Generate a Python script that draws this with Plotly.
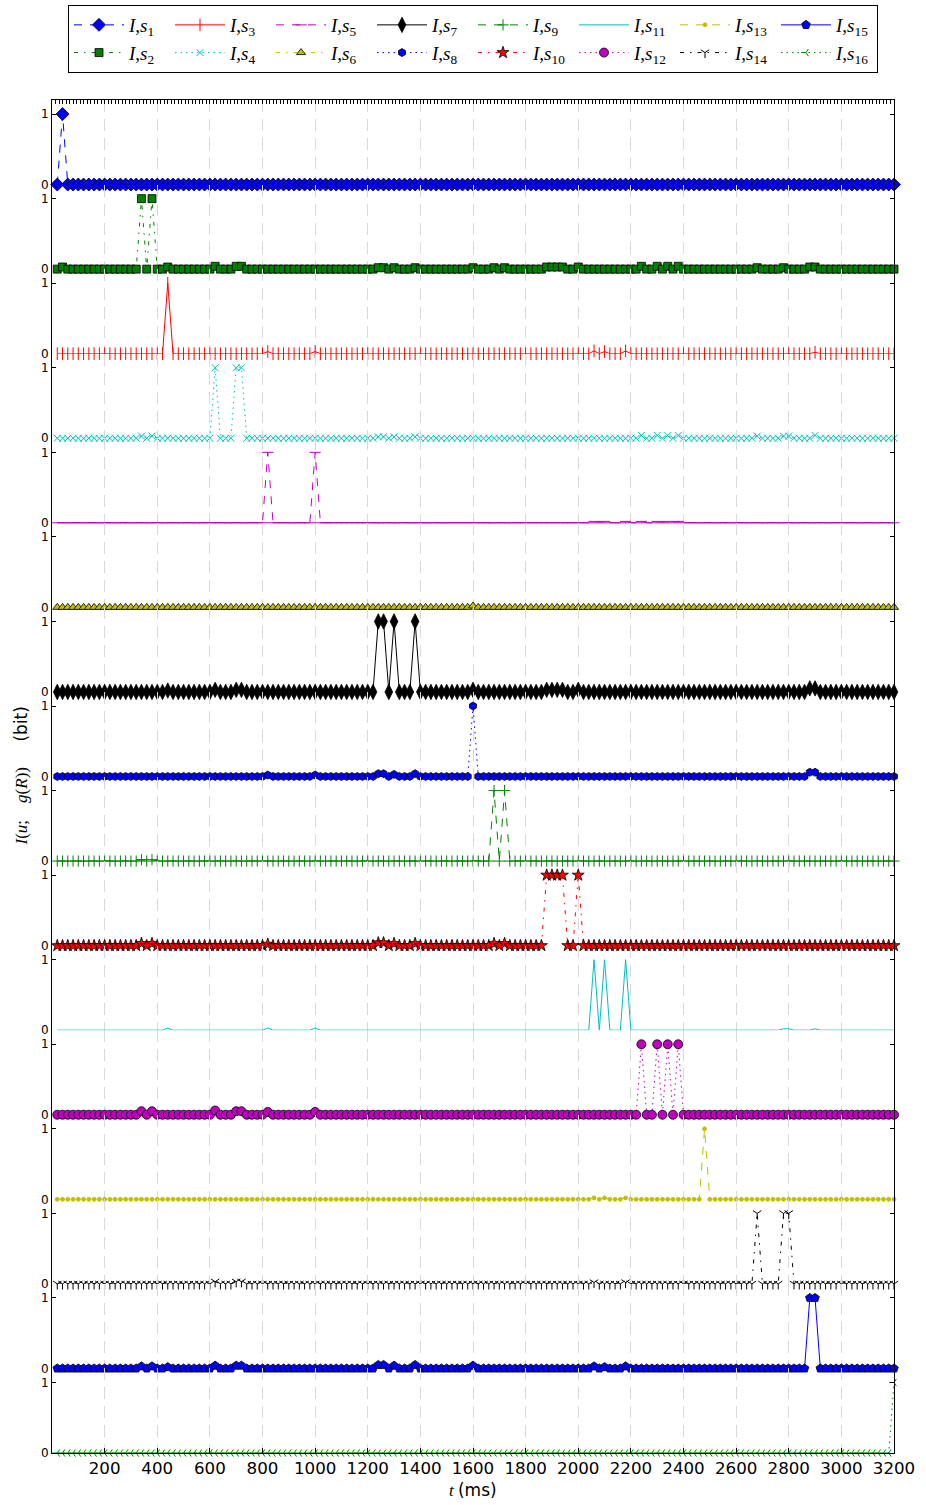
import plotly.graph_objects as go
from plotly.subplots import make_subplots

# sample times (ms)
t_ms = list(range(20, 3201, 20))

# non-zero values: (time in ms, value); all other samples are 0
s1_nonzero = [(40, 1.0)]
s2_nonzero = [(40, 0.03), (340, 1.0), (380, 1.0), (440, 0.03), (620, 0.04), (700, 0.04), (720, 0.04),
              (1240, 0.02), (1260, 0.02), (1300, 0.02), (1380, 0.02), (1600, 0.02), (1680, 0.02), (1720, 0.02),
              (1880, 0.03), (1900, 0.03), (1920, 0.03), (1940, 0.03), (2000, 0.03),
              (2240, 0.04), (2300, 0.04), (2340, 0.04), (2380, 0.04), (2680, 0.02), (2780, 0.02),
              (2880, 0.03), (2900, 0.03)]
s3_nonzero = [(440, 1.0), (820, 0.03), (1000, 0.03), (2060, 0.04), (2100, 0.03), (2180, 0.04), (2900, 0.02)]
s4_nonzero = [(340, 0.03), (380, 0.03), (620, 1.0), (700, 1.0), (720, 1.0), (1240, 0.02), (1260, 0.02),
              (1300, 0.02), (1380, 0.02), (2240, 0.04), (2300, 0.04), (2340, 0.04), (2380, 0.04),
              (2680, 0.03), (2780, 0.03), (2800, 0.03), (2900, 0.04)]
s5_nonzero = [(820, 1.0), (1000, 1.0), (2060, 0.02), (2100, 0.02), (2180, 0.02), (2240, 0.02),
              (2300, 0.02), (2340, 0.02), (2380, 0.02)]
s6_nonzero = [(1600, 0.02)]
s7_nonzero = [(440, 0.02), (620, 0.03), (700, 0.03), (720, 0.03), (1240, 1.0), (1260, 1.0), (1300, 1.0),
              (1380, 1.0), (1600, 0.03), (1880, 0.03), (1900, 0.03), (1920, 0.03), (1940, 0.03),
              (2000, 0.03), (2880, 0.05), (2900, 0.05)]
s8_nonzero = [(820, 0.02), (1000, 0.02), (1240, 0.04), (1260, 0.04), (1300, 0.03), (1380, 0.04),
              (1600, 1.0), (2880, 0.06), (2900, 0.06)]
s9_nonzero = [(340, 0.02), (380, 0.02), (1680, 1.0), (1720, 1.0)]
s10_nonzero = [(340, 0.03), (380, 0.03), (820, 0.02), (1240, 0.04), (1260, 0.04), (1300, 0.03),
               (1380, 0.03), (1680, 0.03), (1720, 0.03), (1880, 1.0), (1900, 1.0), (1920, 1.0),
               (1940, 1.0), (2000, 1.0)]
s11_nonzero = [(440, 0.03), (820, 0.03), (1000, 0.03), (2060, 1.0), (2100, 1.0), (2180, 1.0),
               (2480, 0.01), (2680, 0.01), (2780, 0.02), (2800, 0.02), (2900, 0.02)]
s12_nonzero = [(340, 0.05), (380, 0.05), (620, 0.06), (700, 0.05), (720, 0.05), (820, 0.04),
               (1000, 0.04), (2240, 1.0), (2300, 1.0), (2340, 1.0), (2380, 1.0)]
s13_nonzero = [(2060, 0.02), (2100, 0.02), (2180, 0.02), (2480, 1.0)]
s14_nonzero = [(620, 0.03), (700, 0.03), (720, 0.03), (2060, 0.02), (2180, 0.02), (2680, 1.0),
               (2780, 1.0), (2800, 1.0)]
s15_nonzero = [(340, 0.03), (380, 0.03), (440, 0.02), (620, 0.04), (700, 0.04), (720, 0.04),
               (1240, 0.05), (1260, 0.05), (1300, 0.04), (1380, 0.05), (1600, 0.04), (2060, 0.03),
               (2100, 0.02), (2180, 0.03), (2880, 1.0), (2900, 1.0)]
s16_nonzero = [(3200, 1.0)]

series_nonzero = [s1_nonzero, s2_nonzero, s3_nonzero, s4_nonzero, s5_nonzero, s6_nonzero, s7_nonzero,
                  s8_nonzero, s9_nonzero, s10_nonzero, s11_nonzero, s12_nonzero, s13_nonzero,
                  s14_nonzero, s15_nonzero, s16_nonzero]

x_tick_vals = [200, 400, 600, 800, 1000, 1200, 1400, 1600, 1800, 2000, 2200, 2400, 2600, 2800, 3000, 3200]
y_tick_vals = [0, 1]

# styles
B, G, R, C, M, Y, K = '#0000ff', '#008000', '#ff0000', '#00bfbf', '#bf00bf', '#bfbf00', '#000000'
colors = [B, G, R, C, M, Y, K, B, G, R, C, M, Y, K, B, G]
DASH = '8px,8px'
DASHDOT = '4px,6px,1.5px,6px'
DOT = '1.5px,4px'
pattern = [DASH, DASHDOT, 'solid', DOT]
dashes = [pattern[i % 4] for i in range(16)]

# (symbol, size, filled)
markers = [
    ('diamond', 10, True), ('square', 8, True), ('line-ns-open', 9, False), ('x-thin-open', 7, False),
    ('line-ew-open', 8, False), ('triangle-up', 8, True), ('diamond-tall', 11, True), ('hexagon', 8, True),
    ('cross-thin-open', 8, False), ('star', 9, True), (None, 0, False), ('circle', 9, True),
    ('circle', 4, True), ('y-down-open', 7, False), ('pentagon', 9, True), ('y-left-open', 6, False),
]

N = 16
fig = make_subplots(rows=N, cols=1, shared_xaxes=True, vertical_spacing=0)

for i in range(N):
    vals = [0.0] * len(t_ms)
    for tt, v in series_nonzero[i]:
        vals[t_ms.index(tt)] = v
    sym, size, filled = markers[i]
    col = colors[i]
    name = f"<i>I</i>,<i>s</i><sub>{i + 1}</sub>"
    rank = (i // 2) if i % 2 == 0 else 8 + i // 2
    if sym is None:
        tr = go.Scatter(x=t_ms, y=vals, mode='lines', name=name, legendrank=rank,
                        line=dict(color=col, width=1, dash=dashes[i]), cliponaxis=False)
    else:
        if filled:
            mk = dict(symbol=sym, size=size, color=col,
                      line=dict(color=(col if size < 5 else 'black'), width=0.8))
        else:
            mk = dict(symbol=sym, size=size, color=col, line=dict(color=col, width=1))
        tr = go.Scatter(x=t_ms, y=vals, mode='lines+markers', name=name, legendrank=rank,
                        line=dict(color=col, width=1, dash=dashes[i]), marker=mk, cliponaxis=False)
    fig.add_trace(tr, row=i + 1, col=1)

grid_style = dict(showgrid=True, gridcolor='#d9d9d9', gridwidth=1, griddash='12px,7px',
                  tickvals=x_tick_vals, range=[0, 3200], zeroline=False)

for i in range(N):
    r = i + 1
    xa = dict(grid_style)
    if r == 1:
        xa.update(side='top', showline=True, linecolor='black', linewidth=1, ticks='inside', ticklen=4,
                  tickcolor='black', showticklabels=False,
                  minor=dict(dtick=200 / 15, tick0=0, ticks='inside', ticklen=4, tickcolor='black', showgrid=False))
    elif r == N:
        xa.update(showline=True, linecolor='black', linewidth=1, ticks='inside', ticklen=5, tickcolor='black',
                  showticklabels=True, ticktext=[str(v) for v in x_tick_vals],
                  tickfont=dict(family='DejaVu Sans', size=16.7, color='black'))
    else:
        xa.update(showline=False, ticks='', showticklabels=False)
    fig.update_xaxes(row=r, col=1, **xa)
    fig.update_yaxes(row=r, col=1, range=[0, 1.2], tickvals=y_tick_vals, ticktext=['0', '1'],
                     ticks='inside', ticklen=4, tickcolor='black', showline=True, linecolor='black',
                     linewidth=1, mirror='ticks', showgrid=False, zeroline=False,
                     tickfont=dict(family='DejaVu Sans', size=12, color='black'))

fig.update_layout(
    width=926, height=1505,
    margin=dict(l=52, r=32, t=100, b=52, autoexpand=False),
    paper_bgcolor='white', plot_bgcolor='rgba(0,0,0,0)',
    showlegend=True,
    legend=dict(orientation='h', x=0.5, xanchor='center', y=1.0702, yanchor='top',
                bordercolor='black', borderwidth=1, bgcolor='white',
                font=dict(family='Liberation Serif', size=19, color='black'),
                itemwidth=50, entrywidth=36, traceorder='normal'),
    annotations=[
        dict(text='<i>I</i>(<i>u</i>;\u2002\u2002<i>g</i>(<i>R</i>))'
                  '\u2003\u2002<span style="font-family:DejaVu Sans">(bit)</span>',
             x=-0.038, y=0.5, xref='paper', yref='paper', textangle=-90, showarrow=False,
             xanchor='center', yanchor='middle',
             font=dict(family='Liberation Serif', size=17, color='black')),
        dict(text='<i>t</i> <span style="font-family:DejaVu Sans">(ms)</span>',
             x=0.5, y=-0.0275, xref='paper', yref='paper', showarrow=False,
             xanchor='center', yanchor='middle',
             font=dict(family='Liberation Serif', size=17, color='black')),
    ],
)

fig.write_html("out.html", config=dict(displayModeBar=False),
               post_script="document.body.style.margin='0px';document.body.style.overflow='hidden';")
